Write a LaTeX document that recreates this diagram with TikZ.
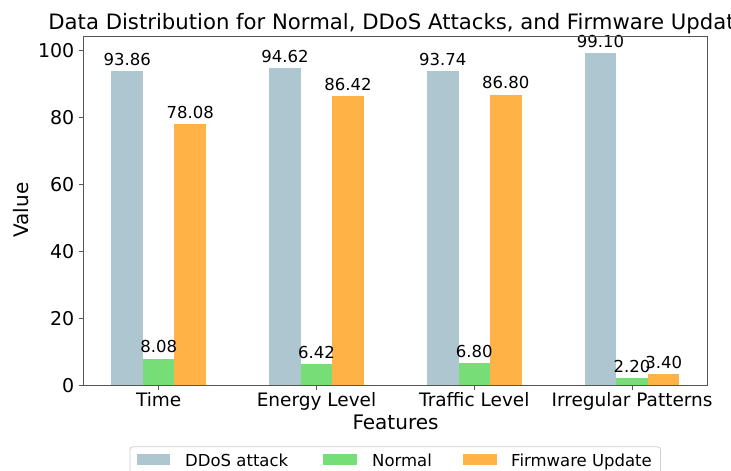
\documentclass[tikz,border=0pt]{standalone}
\usepackage{fontspec}
\setmainfont{DejaVu Sans}
\definecolor{ddos}{HTML}{AEC6CF}
\definecolor{normal}{HTML}{77DD77}
\definecolor{firmware}{HTML}{FFB347}
\definecolor{spine}{HTML}{555555}
\definecolor{legedge}{HTML}{D0D0D0}
\newcommand{\fs}[1]{\fontsize{#1}{#1}\selectfont}
\tikzset{
  vallabel/.style={anchor=base, inner sep=0pt, font=\fs{16.5}},
  ytick/.style={anchor=east, inner sep=0pt, font=\fs{19}},
  xtick/.style={anchor=base, inner sep=0pt, font=\fs{18.5}},
  axlabel/.style={anchor=base, inner sep=0pt, font=\fs{20}},
  titletext/.style={anchor=base, inner sep=0pt, font=\fs{21.2}},
  legtext/.style={anchor=base west, inner sep=0pt, font=\fs{16.5}},
  tickmark/.style={spine, line width=0.8pt},
}
% data coordinates: x in groups, y in values
\newcommand{\X}[1]{158.7+157.8*(#1)}
\newcommand{\Y}[1]{385.8-3.355*(#1)}
\begin{document}
\begin{tikzpicture}[x=1pt, y=-1pt]
\useasboundingbox (0,0) rectangle (731,471);
\clip (0,0) rectangle (731,471);
\fill[white] (0,0) rectangle (731,471);

% bars: DDoS attack, Normal, Firmware Update
\foreach \g/\a/\n/\f in {0/93.86/8.08/78.08, 1/94.62/6.42/86.42, 2/93.74/6.80/86.80, 3/99.10/2.20/3.40}{
  \fill[ddos] ({\X{\g-0.3}},{\Y{0}}) rectangle ({\X{\g-0.1}},{\Y{\a}});
  \fill[normal] ({\X{\g-0.1}},{\Y{0}}) rectangle ({\X{\g+0.1}},{\Y{\n}});
  \fill[firmware] ({\X{\g+0.1}},{\Y{0}}) rectangle ({\X{\g+0.3}},{\Y{\f}});
  \node[vallabel] (va\g) at ({\X{\g-0.2}},{\Y{\a}-5.7}) {\a};
  \node[vallabel] (vn\g) at ({\X{\g}},{\Y{\n}-5.7}) {\n};
  \node[vallabel] (vf\g) at ({\X{\g+0.2}},{\Y{\f}-5.7}) {\f};
}

% axes frame
\draw[spine, line width=0.9pt] ({\X{-0.48}},{\Y{0}}) coordinate (bl)
  rectangle ({\X{3.48}},{\Y{104.06}}) coordinate (tr);

% y ticks
\foreach \v in {0,20,40,60,80,100}{
  \draw[tickmark] ({\X{-0.48}},{\Y{\v}}) -- ++(-4,0);
  \node[ytick] (yt\v) at (74.5,{\Y{\v}}) {\v};
}

% x ticks
\foreach \g/\t in {0/Time, 1/Energy Level, 2/Traffic Level, 3/Irregular Patterns}{
  \draw[tickmark] ({\X{\g}},{\Y{0}}) -- ++(0,4);
  \node[xtick] (xt\g) at ({\X{\g}},406) {\t};
}

% axis labels and title
\node[axlabel, rotate=90] (ylab) at (28.3,210) {Value};
\node[axlabel] (xlab) at (395.5,429.7) {Features};
\node[titletext] (title) at (398,29.5) {Data Distribution for Normal, DDoS Attacks, and Firmware Update};

% legend
\draw[legedge, line width=0.8pt, rounded corners=3pt, fill=white] (130,446.7) rectangle (660.5,480);
\fill[ddos] (136.7,454) rectangle (170.3,464.5);
\node[legtext] (l1) at (185,466) {DDoS attack};
\fill[normal] (323,454) rectangle (356.6,464.5);
\node[legtext] (l2) at (372,466) {Normal};
\fill[firmware] (463.3,454) rectangle (496.9,464.5);
\node[legtext] (l3) at (511,466) {Firmware Update};
\end{tikzpicture}
\end{document}
